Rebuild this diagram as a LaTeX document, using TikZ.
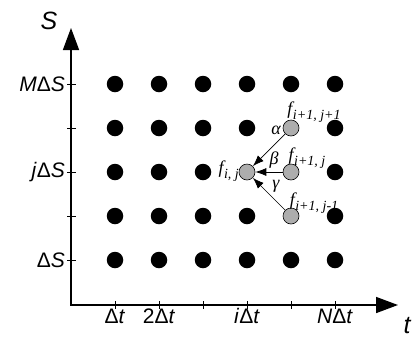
\documentclass[tikz,border=0pt]{standalone}
\usepackage{fontspec}
\setmainfont{Liberation Sans}
\newfontfamily\serifface{Liberation Serif}
\usetikzlibrary{arrows.meta,positioning}
\newcommand{\fval}[1]{f\kern0.5pt\raisebox{-0.28em}{\fontsize{14}{14}\selectfont #1}}

\begin{document}
\begin{tikzpicture}[
  x=1pt,y=-1pt,
  gridpt/.style={circle, fill=black, minimum size=16.5pt, inner sep=0pt},
  markpt/.style={circle, draw=black, fill=black!32, line width=0.6pt, minimum size=16pt, inner sep=0pt},
  axis/.style={{Triangle[length=22pt,width=16pt]}-{Triangle[length=22pt,width=16pt]}, line width=1.6pt},
  tick/.style={line width=0.6pt},
  arr/.style={-{Latex[length=11pt,width=8pt]}, line width=0.7pt},
  ticklbl/.style={font=\fontsize{21}{21}\selectfont, inner sep=2pt},
  axlbl/.style={font=\fontsize{25}{25}\selectfont\itshape, inner sep=0pt},
  flbl/.style={font=\serifface\itshape\fontsize{18}{18}\selectfont, inner sep=0pt}
]
\useasboundingbox (0,0) rectangle (417,341);
% axes
\coordinate (o) at (71,305);
\coordinate (ytop) at (71,28);
\coordinate (xend) at (398,305);
\draw[axis] (ytop) -- (o) -- (xend);
\node[axlbl] (slbl) at (49,21) {S};
\node[axlbl] (tlbl) at (407,326) {t};
% ticks
\foreach \r in {1,...,5}{\draw[tick] (67,{40+44*\r}) -- (76,{40+44*\r});}
\foreach \c in {1,...,6}{\draw[tick] ({71+44*\c},301) -- ({71+44*\c},309);}
\node[ticklbl, anchor=east] (s1) at (67,84) {\textit{M}Δ\textit{S}};
\node[ticklbl, anchor=east] (s3) at (67,172) {\textit{j}Δ\textit{S}};
\node[ticklbl, anchor=east] (s5) at (67,260) {Δ\textit{S}};
\node[ticklbl, anchor=base] (t1) at (115,323) {Δ\textit{t}};
\node[ticklbl, anchor=base] (t2) at (159,323) {2Δ\textit{t}};
\node[ticklbl, anchor=base] (t4) at (247,323) {\textit{i}Δ\textit{t}};
\node[ticklbl, anchor=base] (t6) at (335,323) {\textit{N}Δ\textit{t}};
% grid of values
\foreach \c in {1,...,6}{
  \foreach \r in {1,...,5}{
    \pgfmathtruncatemacro\isgrey{(\c==5 && \r>1 && \r<5) || (\c==4 && \r==3)}
    \ifnum\isgrey=1 \def\kind{markpt}\else\def\kind{gridpt}\fi
    \node[\kind] (d-\c-\r) at ({71+44*\c},{40+44*\r}) {};
  }
}
% backward step
\draw[arr] (d-5-2) -- (d-4-3);
\draw[arr] (d-5-3) -- (d-4-3);
\draw[arr] (d-5-4) -- (d-4-3);
\node[flbl] (fup) at (314,112) {\fval{i+1, j+1}};
\node[flbl] (fmid) at (307,158) {\fval{i+1, j}};
\node[flbl] (flow) at (314,203) {\fval{i+1, j-1}};
\node[flbl, anchor=east] (fij) at (239,171) {\fval{i, j}};
\node[flbl] (alpha) at (276,130) {α};
\node[flbl] (beta) at (274,160) {β};
\node[flbl] (gamma) at (276,186) {γ};
\end{tikzpicture}
\end{document}
